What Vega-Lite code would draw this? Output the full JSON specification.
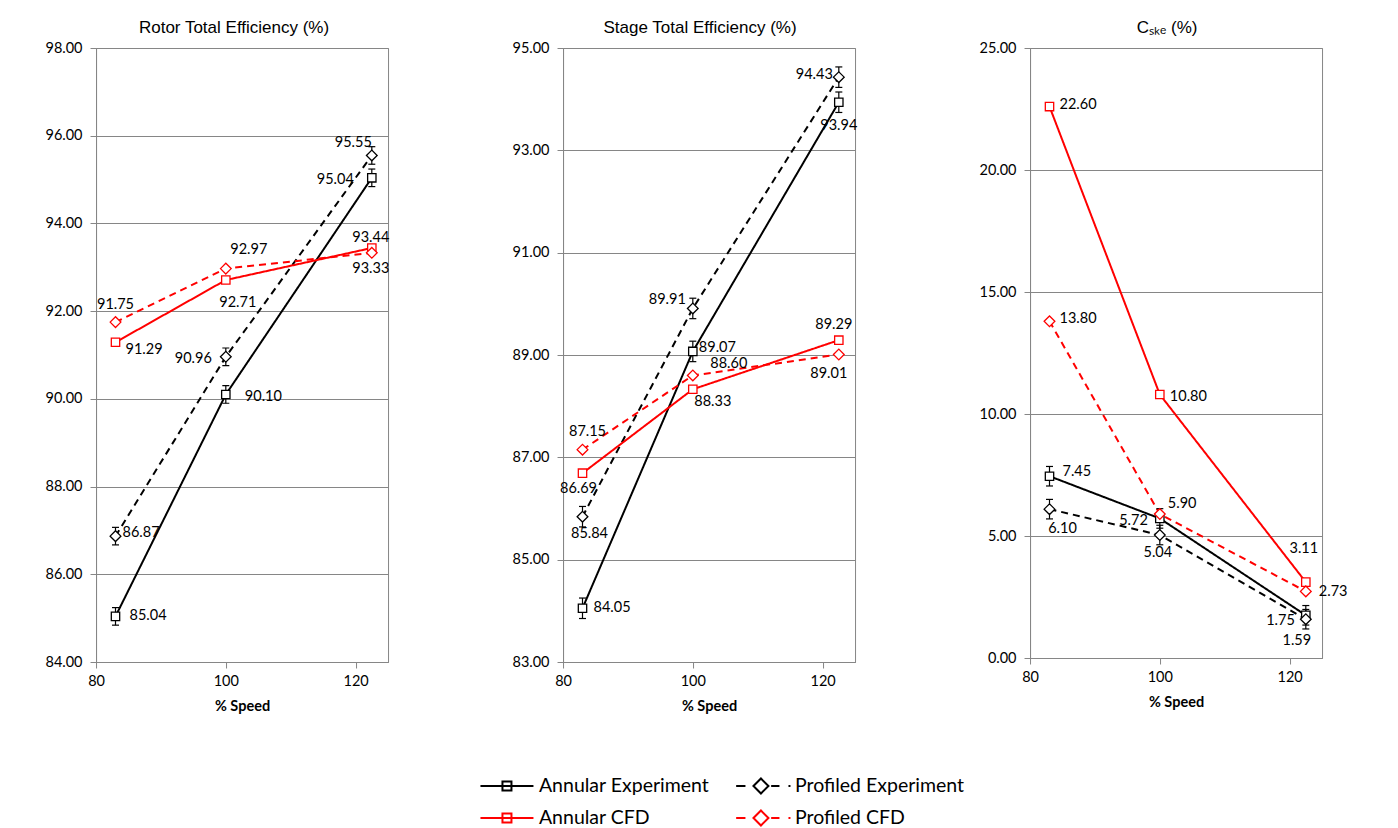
{
  "$schema": "https://vega.github.io/schema/vega-lite/v6.json",
  "background": "white",
  "padding": {"left": 44, "top": 18, "right": 5, "bottom": 0},
  "datasets": {
    "rotor": [
      {"series": "Annular Experiment", "speed": 83, "value": 85.04, "lo": 84.84, "hi": 85.24},
      {"series": "Annular Experiment", "speed": 100, "value": 90.10, "lo": 89.90, "hi": 90.30},
      {"series": "Annular Experiment", "speed": 122.5, "value": 95.04, "lo": 94.84, "hi": 95.24},
      {"series": "Profiled Experiment", "speed": 83, "value": 86.87, "lo": 86.67, "hi": 87.07},
      {"series": "Profiled Experiment", "speed": 100, "value": 90.96, "lo": 90.76, "hi": 91.16},
      {"series": "Profiled Experiment", "speed": 122.5, "value": 95.55, "lo": 95.35, "hi": 95.75},
      {"series": "Annular CFD", "speed": 83, "value": 91.29},
      {"series": "Annular CFD", "speed": 100, "value": 92.71},
      {"series": "Annular CFD", "speed": 122.5, "value": 93.44},
      {"series": "Profiled CFD", "speed": 83, "value": 91.75},
      {"series": "Profiled CFD", "speed": 100, "value": 92.97},
      {"series": "Profiled CFD", "speed": 122.5, "value": 93.33}
    ],
    "stage": [
      {"series": "Annular Experiment", "speed": 83, "value": 84.05, "lo": 83.85, "hi": 84.25},
      {"series": "Annular Experiment", "speed": 100, "value": 89.07, "lo": 88.87, "hi": 89.27},
      {"series": "Annular Experiment", "speed": 122.5, "value": 93.94, "lo": 93.74, "hi": 94.14},
      {"series": "Profiled Experiment", "speed": 83, "value": 85.84, "lo": 85.64, "hi": 86.04},
      {"series": "Profiled Experiment", "speed": 100, "value": 89.91, "lo": 89.71, "hi": 90.11},
      {"series": "Profiled Experiment", "speed": 122.5, "value": 94.43, "lo": 94.23, "hi": 94.63},
      {"series": "Annular CFD", "speed": 83, "value": 86.69},
      {"series": "Annular CFD", "speed": 100, "value": 88.33},
      {"series": "Annular CFD", "speed": 122.5, "value": 89.29},
      {"series": "Profiled CFD", "speed": 83, "value": 87.15},
      {"series": "Profiled CFD", "speed": 100, "value": 88.60},
      {"series": "Profiled CFD", "speed": 122.5, "value": 89.01}
    ],
    "cske": [
      {"series": "Annular Experiment", "speed": 83, "value": 7.45, "lo": 7.05, "hi": 7.85},
      {"series": "Annular Experiment", "speed": 100, "value": 5.72, "lo": 5.32, "hi": 6.12},
      {"series": "Annular Experiment", "speed": 122.5, "value": 1.75, "lo": 1.35, "hi": 2.15},
      {"series": "Profiled Experiment", "speed": 83, "value": 6.10, "lo": 5.70, "hi": 6.50},
      {"series": "Profiled Experiment", "speed": 100, "value": 5.04, "lo": 4.64, "hi": 5.44},
      {"series": "Profiled Experiment", "speed": 122.5, "value": 1.59, "lo": 1.19, "hi": 1.99},
      {"series": "Annular CFD", "speed": 83, "value": 22.60},
      {"series": "Annular CFD", "speed": 100, "value": 10.80},
      {"series": "Annular CFD", "speed": 122.5, "value": 3.11},
      {"series": "Profiled CFD", "speed": 83, "value": 13.80},
      {"series": "Profiled CFD", "speed": 100, "value": 5.90},
      {"series": "Profiled CFD", "speed": 122.5, "value": 2.73}
    ],
    "legend": [
      {"series": "Annular Experiment", "geometry": "Annular", "source": "Experiment"},
      {"series": "Profiled Experiment", "geometry": "Profiled", "source": "Experiment"},
      {"series": "Annular CFD", "geometry": "Annular", "source": "CFD"},
      {"series": "Profiled CFD", "geometry": "Profiled", "source": "CFD"}
    ]
  },
  "spacing": 56,
  "center": true,
  "bounds": "full",
  "vconcat": [
    {
      "spacing": 175,
      "bounds": "flush",
      "hconcat": [
        {
          "width": 292, "height": 614,
          "title": {"text": "Rotor Total Efficiency (%)", "dx": -8},
          "data": {"name": "rotor"},
          "encoding": {
            "x": {"field": "speed", "type": "quantitative", "scale": {"domain": [80, 125], "nice": false, "zero": false}, "axis": {"values": [80, 100, 120], "grid": false, "title": "% Speed", "labelPadding": 6, "titlePadding": 12}},
            "y": {"field": "value", "type": "quantitative", "scale": {"domain": [84, 98], "nice": false, "zero": false}, "axis": {"values": [84, 86, 88, 90, 92, 94, 96, 98], "format": ".2f", "title": null, "labelPadding": 8}},
            "text": {"field": "value", "type": "quantitative", "format": ".2f"}
          },
          "layer": [
            {"mark": {"type": "line", "strokeWidth": 2}, "encoding": {
              "stroke": {"field": "series", "type": "nominal", "scale": {"domain": ["Annular Experiment", "Profiled Experiment", "Annular CFD", "Profiled CFD"], "range": ["#000000", "#000000", "#ff0000", "#ff0000"]}, "legend": null},
              "strokeDash": {"field": "series", "type": "nominal", "scale": {"domain": ["Annular Experiment", "Profiled Experiment", "Annular CFD", "Profiled CFD"], "range": [[1, 0], [7, 5], [1, 0], [7, 5]]}, "legend": null}}},
            {"transform": [{"filter": "isValid(datum.lo)"}], "mark": {"type": "rule", "color": "#000000", "strokeWidth": 1.2}, "encoding": {"y": {"field": "lo", "type": "quantitative"}, "y2": {"field": "hi"}}},
            {"transform": [{"filter": "isValid(datum.lo)"}], "mark": {"type": "tick", "orient": "horizontal", "size": 7, "thickness": 1.2, "color": "#000000", "opacity": 1}, "encoding": {"y": {"field": "lo", "type": "quantitative"}}},
            {"transform": [{"filter": "isValid(datum.hi)"}], "mark": {"type": "tick", "orient": "horizontal", "size": 7, "thickness": 1.2, "color": "#000000", "opacity": 1}, "encoding": {"y": {"field": "hi", "type": "quantitative"}}},
            {"transform": [{"filter": "indexof(datum.series, 'Annular') == 0"}], "mark": {"type": "point", "shape": "square", "size": 70, "filled": false, "fill": "white", "strokeWidth": 1.3, "opacity": 1}, "encoding": {"stroke": {"field": "series", "type": "nominal", "legend": null}}},
            {"transform": [{"filter": "indexof(datum.series, 'Profiled') == 0"}], "mark": {"type": "point", "shape": "diamond", "size": 115, "filled": false, "fill": "white", "strokeWidth": 1.3, "opacity": 1}, "encoding": {"stroke": {"field": "series", "type": "nominal", "legend": null}}},
            {"transform": [{"filter": "datum.series == 'Annular Experiment' && datum.speed == 83"}], "mark": {"type": "text", "align": "left", "dx": 14, "dy": 0}},
            {"transform": [{"filter": "datum.series == 'Annular Experiment' && datum.speed == 100"}], "mark": {"type": "text", "align": "left", "dx": 19, "dy": 3}},
            {"transform": [{"filter": "datum.series == 'Annular Experiment' && datum.speed == 122.5"}], "mark": {"type": "text", "align": "right", "dx": -18, "dy": 2}},
            {"transform": [{"filter": "datum.series == 'Profiled Experiment' && datum.speed == 83"}], "mark": {"type": "text", "align": "left", "dx": 7, "dy": -3}},
            {"transform": [{"filter": "datum.series == 'Profiled Experiment' && datum.speed == 100"}], "mark": {"type": "text", "align": "right", "dx": -14, "dy": 2}},
            {"transform": [{"filter": "datum.series == 'Profiled Experiment' && datum.speed == 122.5"}], "mark": {"type": "text", "align": "right", "dx": 0, "dy": -12}},
            {"transform": [{"filter": "datum.series == 'Annular CFD' && datum.speed == 83"}], "mark": {"type": "text", "align": "left", "dx": 10, "dy": 8}},
            {"transform": [{"filter": "datum.series == 'Annular CFD' && datum.speed == 100"}], "mark": {"type": "text", "align": "center", "dx": 12, "dy": 23}},
            {"transform": [{"filter": "datum.series == 'Annular CFD' && datum.speed == 122.5"}], "mark": {"type": "text", "align": "center", "dx": -1, "dy": -10}},
            {"transform": [{"filter": "datum.series == 'Profiled CFD' && datum.speed == 83"}], "mark": {"type": "text", "align": "center", "dx": 0, "dy": -17}},
            {"transform": [{"filter": "datum.series == 'Profiled CFD' && datum.speed == 100"}], "mark": {"type": "text", "align": "center", "dx": 23, "dy": -19}},
            {"transform": [{"filter": "datum.series == 'Profiled CFD' && datum.speed == 122.5"}], "mark": {"type": "text", "align": "center", "dx": -1, "dy": 16}}
          ]
        },
        {
          "width": 292, "height": 614,
          "title": {"text": "Stage Total Efficiency (%)", "dx": -9},
          "data": {"name": "stage"},
          "encoding": {
            "x": {"field": "speed", "type": "quantitative", "scale": {"domain": [80, 125], "nice": false, "zero": false}, "axis": {"values": [80, 100, 120], "grid": false, "title": "% Speed", "labelPadding": 6, "titlePadding": 12}},
            "y": {"field": "value", "type": "quantitative", "scale": {"domain": [83, 95], "nice": false, "zero": false}, "axis": {"values": [83, 85, 87, 89, 91, 93, 95], "format": ".2f", "title": null, "labelPadding": 8}},
            "text": {"field": "value", "type": "quantitative", "format": ".2f"}
          },
          "layer": [
            {"mark": {"type": "line", "strokeWidth": 2}, "encoding": {
              "stroke": {"field": "series", "type": "nominal", "legend": null},
              "strokeDash": {"field": "series", "type": "nominal", "legend": null}}},
            {"transform": [{"filter": "isValid(datum.lo)"}], "mark": {"type": "rule", "color": "#000000", "strokeWidth": 1.2}, "encoding": {"y": {"field": "lo", "type": "quantitative"}, "y2": {"field": "hi"}}},
            {"transform": [{"filter": "isValid(datum.lo)"}], "mark": {"type": "tick", "orient": "horizontal", "size": 7, "thickness": 1.2, "color": "#000000", "opacity": 1}, "encoding": {"y": {"field": "lo", "type": "quantitative"}}},
            {"transform": [{"filter": "isValid(datum.hi)"}], "mark": {"type": "tick", "orient": "horizontal", "size": 7, "thickness": 1.2, "color": "#000000", "opacity": 1}, "encoding": {"y": {"field": "hi", "type": "quantitative"}}},
            {"transform": [{"filter": "indexof(datum.series, 'Annular') == 0"}], "mark": {"type": "point", "shape": "square", "size": 70, "filled": false, "fill": "white", "strokeWidth": 1.3, "opacity": 1}, "encoding": {"stroke": {"field": "series", "type": "nominal", "legend": null}}},
            {"transform": [{"filter": "indexof(datum.series, 'Profiled') == 0"}], "mark": {"type": "point", "shape": "diamond", "size": 115, "filled": false, "fill": "white", "strokeWidth": 1.3, "opacity": 1}, "encoding": {"stroke": {"field": "series", "type": "nominal", "legend": null}}},
            {"transform": [{"filter": "datum.series == 'Annular Experiment' && datum.speed == 83"}], "mark": {"type": "text", "align": "left", "dx": 11, "dy": 0}},
            {"transform": [{"filter": "datum.series == 'Annular Experiment' && datum.speed == 100"}], "mark": {"type": "text", "align": "left", "dx": 6, "dy": -3}},
            {"transform": [{"filter": "datum.series == 'Annular Experiment' && datum.speed == 122.5"}], "mark": {"type": "text", "align": "center", "dx": 0, "dy": 24}},
            {"transform": [{"filter": "datum.series == 'Profiled Experiment' && datum.speed == 83"}], "mark": {"type": "text", "align": "center", "dx": 7, "dy": 17}},
            {"transform": [{"filter": "datum.series == 'Profiled Experiment' && datum.speed == 100"}], "mark": {"type": "text", "align": "right", "dx": -7, "dy": -8}},
            {"transform": [{"filter": "datum.series == 'Profiled Experiment' && datum.speed == 122.5"}], "mark": {"type": "text", "align": "right", "dx": -6, "dy": -2}},
            {"transform": [{"filter": "datum.series == 'Annular CFD' && datum.speed == 83"}], "mark": {"type": "text", "align": "center", "dx": -4, "dy": 16}},
            {"transform": [{"filter": "datum.series == 'Annular CFD' && datum.speed == 100"}], "mark": {"type": "text", "align": "center", "dx": 20, "dy": 13}},
            {"transform": [{"filter": "datum.series == 'Annular CFD' && datum.speed == 122.5"}], "mark": {"type": "text", "align": "center", "dx": -5, "dy": -15}},
            {"transform": [{"filter": "datum.series == 'Profiled CFD' && datum.speed == 83"}], "mark": {"type": "text", "align": "center", "dx": 5, "dy": -18}},
            {"transform": [{"filter": "datum.series == 'Profiled CFD' && datum.speed == 100"}], "mark": {"type": "text", "align": "center", "dx": 36, "dy": -11}},
            {"transform": [{"filter": "datum.series == 'Profiled CFD' && datum.speed == 122.5"}], "mark": {"type": "text", "align": "center", "dx": -10, "dy": 20}}
          ]
        },
        {
          "width": 292, "height": 610,
          "title": {"text": "Cₛₖₑ (%)", "dx": -9},
          "data": {"name": "cske"},
          "encoding": {
            "x": {"field": "speed", "type": "quantitative", "scale": {"domain": [80, 125], "nice": false, "zero": false}, "axis": {"values": [80, 100, 120], "grid": false, "title": "% Speed", "labelPadding": 6, "titlePadding": 12}},
            "y": {"field": "value", "type": "quantitative", "scale": {"domain": [0, 25], "nice": false}, "axis": {"values": [0, 5, 10, 15, 20, 25], "format": ".2f", "title": null, "labelPadding": 8}},
            "text": {"field": "value", "type": "quantitative", "format": ".2f"}
          },
          "layer": [
            {"mark": {"type": "line", "strokeWidth": 2}, "encoding": {
              "stroke": {"field": "series", "type": "nominal", "legend": null},
              "strokeDash": {"field": "series", "type": "nominal", "legend": null}}},
            {"transform": [{"filter": "isValid(datum.lo)"}], "mark": {"type": "rule", "color": "#000000", "strokeWidth": 1.2}, "encoding": {"y": {"field": "lo", "type": "quantitative"}, "y2": {"field": "hi"}}},
            {"transform": [{"filter": "isValid(datum.lo)"}], "mark": {"type": "tick", "orient": "horizontal", "size": 7, "thickness": 1.2, "color": "#000000", "opacity": 1}, "encoding": {"y": {"field": "lo", "type": "quantitative"}}},
            {"transform": [{"filter": "isValid(datum.hi)"}], "mark": {"type": "tick", "orient": "horizontal", "size": 7, "thickness": 1.2, "color": "#000000", "opacity": 1}, "encoding": {"y": {"field": "hi", "type": "quantitative"}}},
            {"transform": [{"filter": "indexof(datum.series, 'Annular') == 0"}], "mark": {"type": "point", "shape": "square", "size": 70, "filled": false, "fill": "white", "strokeWidth": 1.3, "opacity": 1}, "encoding": {"stroke": {"field": "series", "type": "nominal", "legend": null}}},
            {"transform": [{"filter": "indexof(datum.series, 'Profiled') == 0"}], "mark": {"type": "point", "shape": "diamond", "size": 115, "filled": false, "fill": "white", "strokeWidth": 1.3, "opacity": 1}, "encoding": {"stroke": {"field": "series", "type": "nominal", "legend": null}}},
            {"transform": [{"filter": "datum.series == 'Annular Experiment' && datum.speed == 83"}], "mark": {"type": "text", "align": "left", "dx": 13, "dy": -4}},
            {"transform": [{"filter": "datum.series == 'Annular Experiment' && datum.speed == 100"}], "mark": {"type": "text", "align": "right", "dx": -12, "dy": 3}},
            {"transform": [{"filter": "datum.series == 'Annular Experiment' && datum.speed == 122.5"}], "mark": {"type": "text", "align": "right", "dx": -11, "dy": 6}},
            {"transform": [{"filter": "datum.series == 'Profiled Experiment' && datum.speed == 83"}], "mark": {"type": "text", "align": "center", "dx": 13, "dy": 20}},
            {"transform": [{"filter": "datum.series == 'Profiled Experiment' && datum.speed == 100"}], "mark": {"type": "text", "align": "center", "dx": -2, "dy": 18}},
            {"transform": [{"filter": "datum.series == 'Profiled Experiment' && datum.speed == 122.5"}], "mark": {"type": "text", "align": "center", "dx": -9, "dy": 22}},
            {"transform": [{"filter": "datum.series == 'Annular CFD' && datum.speed == 83"}], "mark": {"type": "text", "align": "left", "dx": 10, "dy": -2}},
            {"transform": [{"filter": "datum.series == 'Annular CFD' && datum.speed == 100"}], "mark": {"type": "text", "align": "left", "dx": 10, "dy": 3}},
            {"transform": [{"filter": "datum.series == 'Annular CFD' && datum.speed == 122.5"}], "mark": {"type": "text", "align": "center", "dx": -2, "dy": -33}},
            {"transform": [{"filter": "datum.series == 'Profiled CFD' && datum.speed == 83"}], "mark": {"type": "text", "align": "left", "dx": 10, "dy": -2}},
            {"transform": [{"filter": "datum.series == 'Profiled CFD' && datum.speed == 100"}], "mark": {"type": "text", "align": "left", "dx": 8, "dy": -10}},
            {"transform": [{"filter": "datum.series == 'Profiled CFD' && datum.speed == 122.5"}], "mark": {"type": "text", "align": "left", "dx": 13, "dy": 1}}
          ]
        }
      ]
    },
    {
      "width": 512, "height": 64,
      "data": {"name": "legend"},
      "view": {"stroke": null},
      "encoding": {
        "x": {"field": "geometry", "type": "nominal", "scale": {"type": "point", "domain": ["Annular", "Profiled"], "padding": 0.5, "align": 0.16}, "axis": null},
        "y": {"field": "source", "type": "nominal", "scale": {"type": "point", "domain": ["Experiment", "CFD"], "padding": 0.5}, "axis": null}
      },
      "layer": [
        {"mark": {"type": "point", "filled": false, "size": 400, "strokeWidth": 2, "opacity": 1}, "encoding": {
          "shape": {"field": "series", "type": "nominal", "legend": null,
            "scale": {"domain": ["Annular Experiment", "Profiled Experiment", "Annular CFD", "Profiled CFD"],
              "range": ["M-2.65,0H2.65M-0.45,-0.45H0.45V0.45H-0.45Z", "M-2.68,0H-1.75M-0.95,0L-0.2,-0.75L0.55,0L-0.2,0.75ZM0.82,0H1.65M2.55,0H2.75", "M-2.65,0H2.65M-0.45,-0.45H0.45V0.45H-0.45Z", "M-2.68,0H-1.75M-0.95,0L-0.2,-0.75L0.55,0L-0.2,0.75ZM0.82,0H1.65M2.55,0H2.75"]}},
          "stroke": {"field": "series", "type": "nominal", "legend": null}}},
        {"mark": {"type": "text", "align": "left", "dx": 32, "font": "Lato", "fontSize": 19.5, "baseline": "middle", "color": "#000000"}, "encoding": {"text": {"field": "series", "type": "nominal"}}}
      ]
    }
  ],
  "config": {
    "view": {"stroke": "#868686", "strokeWidth": 1},
    "axis": {"labelFont": "Lato", "labelFontSize": 14.5, "labelColor": "#000000", "labelFlush": false, "domainColor": "#868686", "domainWidth": 1, "tickColor": "#868686", "tickWidth": 1, "tickSize": 6, "gridColor": "#868686", "gridWidth": 1, "gridOpacity": 1, "titleFont": "Lato", "titleFontSize": 14.5, "titleFontWeight": "bold", "titleColor": "#000000"},
    "title": {"font": "Liberation Sans", "fontSize": 17, "fontWeight": "normal", "color": "#000000", "anchor": "middle", "offset": 3},
    "text": {"font": "Lato", "fontSize": 14.5, "color": "#000000", "baseline": "middle"}
  }
}
